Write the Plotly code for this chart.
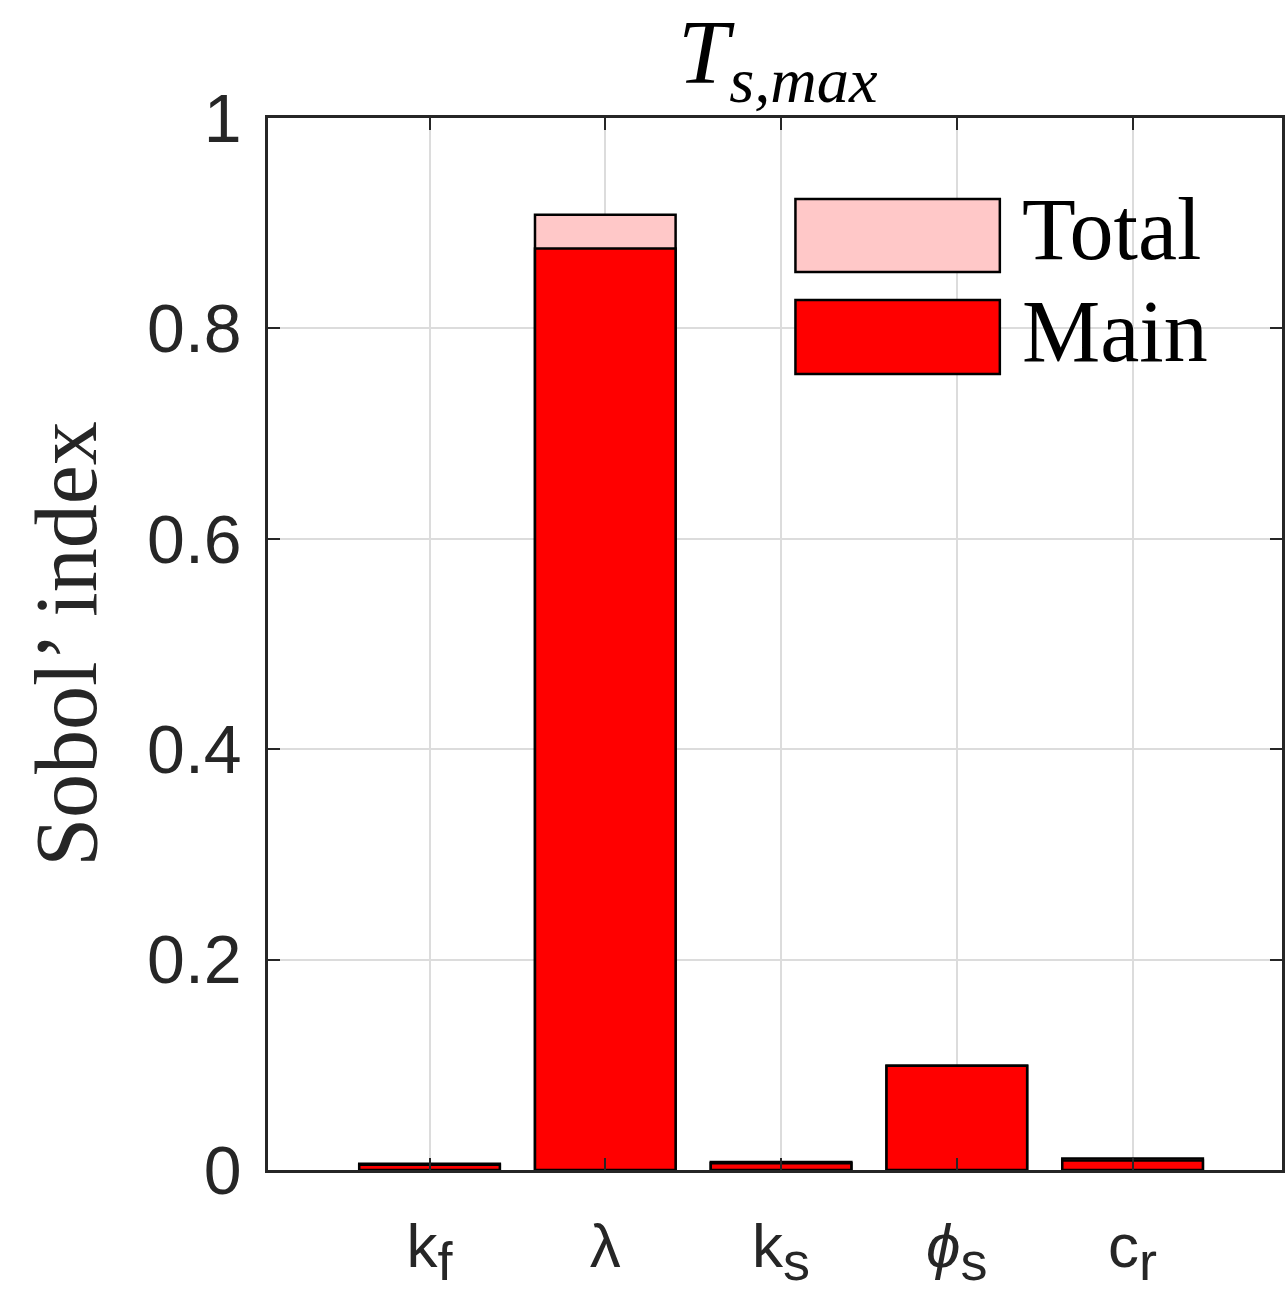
import plotly.graph_objects as go

categories = ["k<sub><span style='font-size:54px'>f</span></sub>", "λ",
              "k<sub><span style='font-size:54px'>s</span></sub>",
              "<i>ϕ</i><sub><span style='font-size:54px'>s</span></sub>",
              "c<sub><span style='font-size:54px'>r</span></sub>"]
positions = [1, 2, 3, 4, 5]
total_vals = [0.006, 0.908, 0.0075, 0.099, 0.011]
main_vals = [0.005, 0.876, 0.0065, 0.099, 0.009]
y_ticks = [0, 0.2, 0.4, 0.6, 0.8, 1]
y_ticktext = ["0", "0.2", "0.4", "0.6", "0.8", "1"]

W, H = 1285, 1300
ML, MT, MB, MR = 268, 118, 130, 0

fig = go.Figure()
fig.add_trace(go.Bar(x=positions, y=total_vals, name="Total", width=0.8,
                     marker=dict(color="#FFC8C8", line=dict(color="black", width=2.5))))
fig.add_trace(go.Bar(x=positions, y=main_vals, name="Main", width=0.8,
                     marker=dict(color="#FF0000", line=dict(color="black", width=2.5))))

axis_color = "#262626"
serif = "Liberation Serif, Times New Roman, serif"
sans = "Liberation Sans, Arial, sans-serif"
fig.update_layout(
    width=W, height=H,
    margin=dict(l=ML, r=MR, t=MT, b=MB),
    plot_bgcolor="white", paper_bgcolor="white",
    barmode="overlay", showlegend=False,
    font=dict(family=sans, color=axis_color),
)
fig.update_xaxes(
    range=[0.081, 5.85], tickmode="array", tickvals=positions, ticktext=categories,
    tickfont=dict(size=62, family=sans, color=axis_color),
    showline=True, linecolor=axis_color, linewidth=2.5, mirror="ticks",
    ticks="inside", ticklen=12, tickwidth=2, tickcolor=axis_color,
    showgrid=True, gridcolor="#DCDCDC", gridwidth=1.5, zeroline=False,
    ticklabelstandoff=20,
)
fig.update_yaxes(
    range=[0, 1], tickmode="array", tickvals=y_ticks, ticktext=y_ticktext,
    tickfont=dict(size=68, family=sans, color=axis_color),
    showline=True, linecolor=axis_color, linewidth=2.5, mirror="ticks",
    ticks="inside", ticklen=12, tickwidth=2, tickcolor=axis_color,
    showgrid=True, gridcolor="#DCDCDC", gridwidth=1.5, zeroline=False,
    ticklabelstandoff=10,
    title=dict(text="Sobol’ index", font=dict(size=88, family=serif, color=axis_color), standoff=22),
)

def px_x(p):
    return (p - ML) / (W - ML - MR)

def px_y(p):
    return 1 - (p - MT) / (H - MT - MB)

# Title
fig.add_annotation(
    text="<i>T</i><sub><i>s,max</i></sub>", xref="paper", yref="paper",
    x=px_x(780), y=px_y(58),
    xanchor="center", yanchor="middle", showarrow=False,
    font=dict(size=92, family=serif, color="black"),
)

# Manual legend
legend_items = [("Total", "#FFC8C8", 199, 272), ("Main", "#FF0000", 300, 374)]
for name, col, y0, y1 in legend_items:
    fig.add_shape(type="rect", xref="paper", yref="paper",
                  x0=px_x(797), x1=px_x(1002), y0=px_y(y1), y1=px_y(y0),
                  fillcolor=col, line=dict(color="black", width=2.5), layer="above")
    fig.add_annotation(text=name, xref="paper", yref="paper",
                       x=px_x(1022), y=px_y((y0 + y1) / 2 - 6), xanchor="left", yanchor="middle",
                       showarrow=False,
                       font=dict(size=88, family=serif, color="black"))

fig.write_html("out.html")
